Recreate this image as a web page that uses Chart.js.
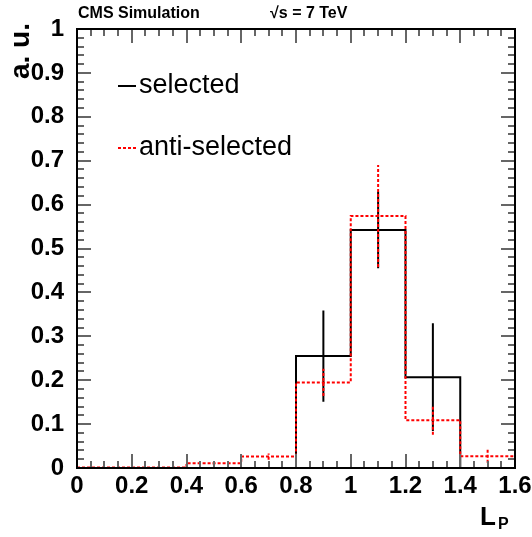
<!DOCTYPE html>
<html>
<head>
<meta charset="utf-8">
<script src="https://cdn.jsdelivr.net/npm/chart.js@4.4.1/dist/chart.umd.min.js"></script>
<style>
  html, body { margin: 0; padding: 0; background: #fff; }
  canvas { display: block; }
</style>
</head>
<body>
<canvas id="lpChart" width="532" height="537"></canvas>
<script>
// histogram bins of L_P
var binEdges = [0, 0.2, 0.4, 0.6, 0.8, 1.0, 1.2, 1.4, 1.6];
var selected = [0, 0, 0, 0, 0.255, 0.542, 0.207, 0];
var selectedErr = [0, 0, 0, 0, 0.104, 0.087, 0.123, 0];
var antiSelected = [0.001, 0.001, 0.011, 0.026, 0.195, 0.574, 0.109, 0.027];
var antiSelectedErr = [0, 0, 0.004, 0.007, 0.031, 0.116, 0.033, 0.015];

var xTicks = [0, 0.2, 0.4, 0.6, 0.8, 1, 1.2, 1.4, 1.6];
var xTickLabels = ['0', '0.2', '0.4', '0.6', '0.8', '1', '1.2', '1.4', '1.6'];
var yTicks = [0, 0.1, 0.2, 0.3, 0.4, 0.5, 0.6, 0.7, 0.8, 0.9, 1];
var yTickLabels = ['0', '0.1', '0.2', '0.3', '0.4', '0.5', '0.6', '0.7', '0.8', '0.9', '1'];

var RED = '#ff0000';
var FONT = '"Liberation Sans", Arial, Helvetica, sans-serif';

// step outline: one point per left edge, plus the last right edge
function stepPoints(vals) {
  var pts = vals.map(function (v, i) { return { x: binEdges[i], y: v }; });
  pts.push({ x: binEdges[binEdges.length - 1], y: vals[vals.length - 1] });
  return pts;
}

// vertical error bars at bin centres, separated by gaps
function errorPoints(vals, errs) {
  var pts = [];
  vals.forEach(function (v, i) {
    if (!errs[i]) return;
    var c = (binEdges[i] + binEdges[i + 1]) / 2;
    pts.push({ x: c, y: v - errs[i] }, { x: c, y: v + errs[i] }, { x: c, y: null });
  });
  return pts;
}

// frame, ROOT style ticks, titles and legend
var decorations = {
  id: 'decorations',
  afterDraw: function (chart) {
    var ctx = chart.ctx, a = chart.chartArea;
    var xs = chart.scales.x, ys = chart.scales.y;
    ctx.save();
    ctx.setLineDash([]);

    // tick marks on all four sides, pointing inwards
    ctx.fillStyle = '#666';
    var k, px, len;
    for (k = 0; k <= 32; k++) {
      px = Math.round(xs.getPixelForValue(k * 0.05));
      len = (k % 4 === 0) ? 14 : 7;
      ctx.fillRect(px - 1, a.bottom - len, 2, len);
      ctx.fillRect(px - 1, a.top, 2, len);
    }
    for (k = 0; k <= 50; k++) {
      px = Math.round(ys.getPixelForValue(k * 0.02));
      len = (k % 5 === 0) ? 14 : 7;
      ctx.fillRect(a.left, px - 1, len, 2);
      ctx.fillRect(a.right - len, px - 1, len, 2);
    }

    ctx.strokeStyle = '#000';
    ctx.lineWidth = 2;
    ctx.strokeRect(a.left, a.top, a.right - a.left, a.bottom - a.top);

    // titles
    ctx.fillStyle = '#000';
    ctx.font = 'bold 16px ' + FONT;
    ctx.textBaseline = 'alphabetic';
    ctx.textAlign = 'left';
    ctx.fillText('CMS Simulation', 78, 18);
    ctx.fillText('\u221As = 7 TeV', 270, 18);

    ctx.font = 'bold 26px ' + FONT;
    ctx.fillText('L', 480, 525);
    ctx.font = 'bold 16px ' + FONT;
    ctx.fillText('P', 498, 529);

    ctx.save();
    ctx.translate(29, 23);
    ctx.rotate(-Math.PI / 2);
    ctx.font = 'bold 28px ' + FONT;
    ctx.textAlign = 'right';
    ctx.textBaseline = 'alphabetic';
    ctx.fillText('a. u.', 0, 0);
    ctx.restore();

    // legend
    var entries = [
      { label: chart.data.datasets[2].label, color: '#000', dash: [], y: 86 },
      { label: chart.data.datasets[0].label, color: RED, dash: [3, 2], y: 148 }
    ];
    ctx.font = '27px ' + FONT;
    ctx.textBaseline = 'middle';
    entries.forEach(function (e) {
      ctx.strokeStyle = e.color;
      ctx.lineWidth = 2;
      ctx.setLineDash(e.dash);
      ctx.beginPath();
      ctx.moveTo(118, e.y);
      ctx.lineTo(136, e.y);
      ctx.stroke();
      ctx.setLineDash([]);
      ctx.fillStyle = '#000';
      ctx.fillText(e.label, 139, e.y);
    });

    ctx.restore();
  }
};

var ctx = document.getElementById('lpChart').getContext('2d');
var chart = new Chart(ctx, {
  type: 'line',
  data: {
    datasets: [
      {
        label: 'anti-selected',
        data: stepPoints(antiSelected),
        stepped: 'before',
        borderColor: RED,
        borderWidth: 2,
        borderDash: [3, 2],
        pointRadius: 0,
        fill: false
      },
      {
        label: 'anti-selected errors',
        data: errorPoints(antiSelected, antiSelectedErr),
        borderColor: RED,
        borderWidth: 2,
        borderDash: [3, 2],
        pointRadius: 0,
        spanGaps: false,
        fill: false
      },
      {
        label: 'selected',
        data: stepPoints(selected),
        stepped: 'before',
        borderColor: '#000',
        borderWidth: 2,
        pointRadius: 0,
        fill: false
      },
      {
        label: 'selected errors',
        data: errorPoints(selected, selectedErr),
        borderColor: '#000',
        borderWidth: 2,
        pointRadius: 0,
        spanGaps: false,
        fill: false
      }
    ]
  },
  options: {
    responsive: false,
    animation: false,
    layout: { padding: { top: 29, right: 17, left: 0, bottom: 0 } },
    plugins: { legend: { display: false }, tooltip: { enabled: false } },
    scales: {
      x: {
        type: 'linear',
        min: 0,
        max: 1.6,
        grid: { display: false },
        border: { display: false },
        afterBuildTicks: function (s) { s.ticks = xTicks.map(function (v) { return { value: v }; }); },
        afterFit: function (s) { s.height = 69; },
        ticks: {
          padding: -4,
          maxRotation: 0,
          color: '#000',
          font: { family: FONT, size: 24, weight: 'bold' },
          callback: function (v) { return xTickLabels[xTicks.indexOf(v)]; }
        }
      },
      y: {
        min: 0,
        max: 1,
        grid: { display: false },
        border: { display: false },
        afterBuildTicks: function (s) { s.ticks = yTicks.map(function (v) { return { value: v }; }); },
        afterFit: function (s) { s.width = 77; },
        ticks: {
          padding: 5,
          color: '#000',
          font: { family: FONT, size: 24, weight: 'bold' },
          callback: function (v) { return yTickLabels[yTicks.indexOf(v)]; }
        }
      }
    }
  },
  plugins: [decorations]
});
</script>
</body>
</html>
